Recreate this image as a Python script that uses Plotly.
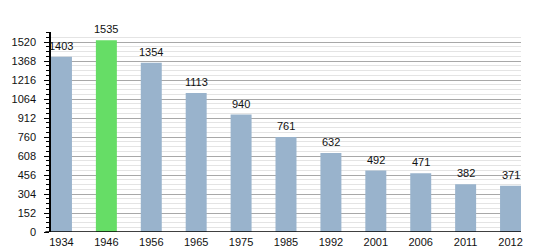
import plotly.graph_objects as go

years = ["1934", "1946", "1956", "1965", "1975", "1985", "1992", "2001", "2006", "2011", "2012"]
population = [1403, 1535, 1354, 1113, 940, 761, 632, 492, 471, 382, 371]
highlight_year = "1946"
y_ticks = [0, 152, 304, 456, 608, 760, 912, 1064, 1216, 1368, 1520]

blue = "#99b3cc"
green = "#66dd66"
colors = [green if y == highlight_year else blue for y in years]
xpos = list(range(len(years)))
fontfam = "Liberation Sans, Arial, sans-serif"

fig = go.Figure()
fig.add_trace(go.Bar(
    x=xpos, y=population, marker_color=colors, marker_line_width=0,
    width=0.467, hoverinfo="skip",
))
for xi, v in zip(xpos, population):
    fig.add_annotation(x=xi, y=v, text=str(v), showarrow=False, yanchor="bottom",
                       yshift=3, font=dict(size=11, color="#111111", family=fontfam))

fig.update_layout(
    width=550, height=250,
    margin=dict(l=51, r=29, t=32, b=18, autoexpand=False),
    plot_bgcolor="white", paper_bgcolor="white",
    showlegend=False,
    font=dict(family=fontfam, size=11, color="#111111"),
    xaxis=dict(
        range=[-0.233, 10.233], tickvals=xpos, ticktext=years,
        showgrid=False, zeroline=False, showline=False, ticks="",
        tickfont=dict(size=11), ticklabelstandoff=2, automargin=False,
    ),
    yaxis=dict(
        range=[0, 1600], tickvals=y_ticks, showgrid=True, gridcolor="#a8a8a8", gridwidth=1,
        zeroline=False, showline=True, linecolor="black", linewidth=1.5,
        ticks="outside", ticklen=5, tickcolor="black", tickwidth=1,
        tickfont=dict(size=11), ticklabelstandoff=6, automargin=False,
        minor=dict(dtick=38, tick0=0, ticks="outside", ticklen=3, tickcolor="black",
                   showgrid=True, gridcolor="#e4e4e4", gridwidth=1),
    ),
)
fig.add_shape(type="line", xref="paper", yref="y", x0=-0.012, x1=1, y0=0, y1=0,
              line=dict(color="black", width=1.5), layer="above")

fig.write_html("out.html")
